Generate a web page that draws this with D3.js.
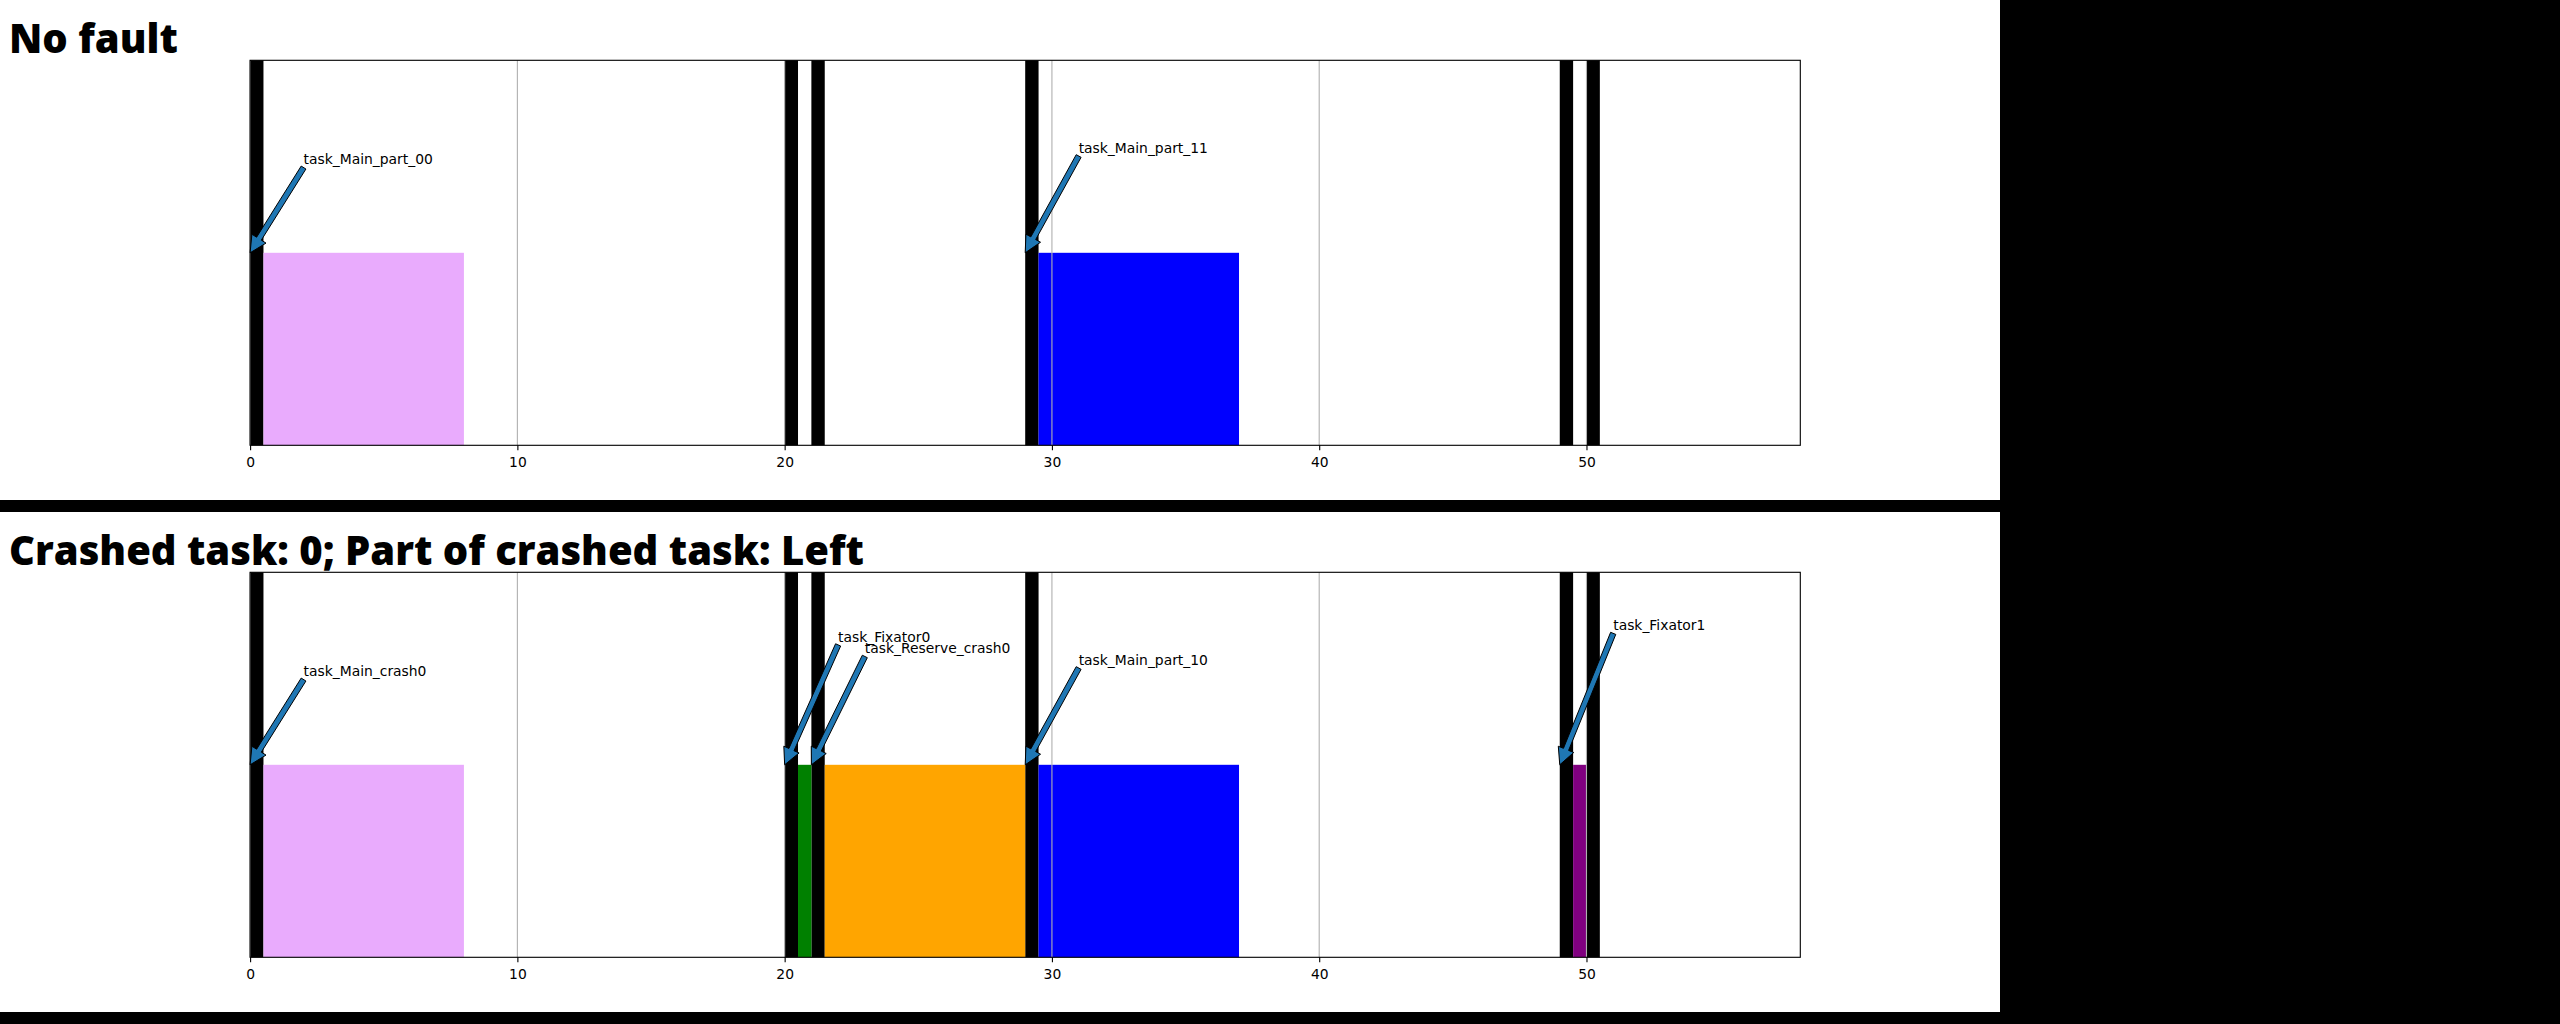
<!DOCTYPE html>
<html>
<head>
<meta charset="utf-8">
<script src="https://cdn.jsdelivr.net/npm/d3@7"></script>
<style>
  html, body { margin: 0; padding: 0; background: #000; }
  svg { display: block; }
</style>
</head>
<body>
<div id="chart"></div>
<script>
// ---------------- data ----------------
const xTicks = [0, 10, 20, 30, 40, 50];
const xMax = 58;
const panelTitles = ["No fault", "Crashed task: 0; Part of crashed task: Left"];
const switchTimes = [0, 20, 21, 29, 49, 50];   // black context-switch markers
const switchWidth = 0.5;

// panel 1: No fault
const p1Names  = ["task_Main_part_00", "task_Main_part_11"];
const p1Starts = [0, 29];
const p1Ends   = [8, 37];
const p1Colors = ["#e9abfd", "#0000ff"];
const p1LabelY = [0.73, 0.76];

// panel 2: crashed
const p2Names  = ["task_Main_crash0", "task_Fixator0", "task_Reserve_crash0", "task_Main_part_10", "task_Fixator1"];
const p2Starts = [0, 20, 21, 29, 49];
const p2Ends   = [8, 21, 29, 37, 50];
const p2Colors = ["#e9abfd", "#008000", "#ffa500", "#0000ff", "#800080"];
const p2LabelY = [0.73, 0.82, 0.79, 0.76, 0.85];

const barHeight = 0.5;
const labelDx = 2;

// ---------------- layout ----------------
const W = 2560, H = 1024;
const panelW = 2000, panelH = 500, gap = 12;
const axL = 250.1, axR = 1800.3, axT = 60.3, axB = 445.3;

const svg = d3.select("#chart").append("svg")
  .attr("width", W).attr("height", H)
  .style("background", "#000");

const panels = [
  {title: panelTitles[0], names: p1Names, starts: p1Starts, ends: p1Ends, colors: p1Colors, ly: p1LabelY},
  {title: panelTitles[1], names: p2Names, starts: p2Starts, ends: p2Ends, colors: p2Colors, ly: p2LabelY}
];

const x = d3.scaleLinear().domain([0, xMax]).range([axL, axR]);
const y = d3.scaleLinear().domain([0, 1]).range([axB, axT]);

const pt = 100 / 72;

panels.forEach((p, i) => {
  const g = svg.append("g").attr("transform", `translate(0,${i * (panelH + gap)})`);
  g.append("rect").attr("x", 0).attr("y", 0).attr("width", panelW).attr("height", panelH).attr("fill", "#fff");

  g.append("text")
    .attr("x", 9).attr("y", 53)
    .attr("font-family", "'Open Sans', sans-serif")
    .attr("font-weight", 800)
    .attr("font-size", 40)
    .attr("fill", "#000")
    .text(p.title);

  const ax = g.append("g");
  ax.append("rect").attr("x", axL).attr("y", axT).attr("width", axR - axL).attr("height", axB - axT).attr("fill", "#fff");

  // black switch markers
  ax.selectAll("rect.sw").data(switchTimes).enter().append("rect")
    .attr("class", "sw")
    .attr("x", d => x(d)).attr("width", d => x(d + switchWidth) - x(d))
    .attr("y", y(1)).attr("height", y(0) - y(1))
    .attr("fill", "#000");

  // task bars
  const tasks = p.names.map((n, k) => ({name: n, start: p.starts[k], end: p.ends[k], color: p.colors[k], ly: p.ly[k]}));
  ax.selectAll("rect.task").data(tasks).enter().append("rect")
    .attr("class", "task")
    .attr("x", d => x(d.start + switchWidth)).attr("width", d => x(d.end) - x(d.start + switchWidth))
    .attr("y", y(barHeight)).attr("height", y(0) - y(barHeight))
    .attr("fill", d => d.color);

  // grid (drawn above bars)
  ax.selectAll("line.grid").data(xTicks).enter().append("line")
    .attr("class", "grid")
    .attr("x1", d => x(d)).attr("x2", d => x(d))
    .attr("y1", y(0)).attr("y2", y(1))
    .attr("stroke", "#b0b0b0").attr("stroke-width", 0.8 * pt);

  // x axis
  const xAxis = d3.axisBottom(x).tickValues(xTicks).tickFormat(d3.format("d"))
    .tickSize(3.5 * pt).tickPadding(6.6).tickSizeOuter(0);
  const axg = ax.append("g").attr("transform", `translate(0,${axB})`).call(xAxis);
  axg.select(".domain").remove();
  axg.selectAll(".tick line").attr("stroke", "#000").attr("stroke-width", 0.8 * pt);
  axg.selectAll(".tick text").attr("font-family", "'DejaVu Sans', sans-serif").attr("font-size", 10 * pt).attr("fill", "#000");

  // spines
  ax.append("rect").attr("x", axL).attr("y", axT).attr("width", axR - axL).attr("height", axB - axT)
    .attr("fill", "none").attr("stroke", "#000").attr("stroke-width", 0.8 * pt);

  // annotations
  const hw = 12 * pt / 2, tw = 4 * pt / 2, hl = 12 * pt;
  tasks.forEach(d => {
    const tx = x(d.start + labelDx), ty = y(d.ly);
    const Tx = tx, Ty = ty + 3.3;
    const Px = x(d.start), Py = y(barHeight);
    const dx = Px - Tx, dy = Py - Ty, L = Math.hypot(dx, dy);
    const ux = dx / L, uy = dy / L, nx = -uy, ny = ux;
    const Bx = Px - ux * hl, By = Py - uy * hl;
    const pts = [
      [Tx + nx * tw, Ty + ny * tw],
      [Bx + nx * tw, By + ny * tw],
      [Bx + nx * hw, By + ny * hw],
      [Px, Py],
      [Bx - nx * hw, By - ny * hw],
      [Bx - nx * tw, By - ny * tw],
      [Tx - nx * tw, Ty - ny * tw]
    ];
    ax.append("path")
      .attr("d", "M" + pts.map(q => q.join(",")).join("L") + "Z")
      .attr("fill", "#1f77b4").attr("stroke", "#000").attr("stroke-width", 1)
      .attr("stroke-linejoin", "miter");
    ax.append("text")
      .attr("x", tx).attr("y", ty)
      .attr("font-family", "'DejaVu Sans', sans-serif")
      .attr("font-size", 10 * pt)
      .attr("fill", "#000")
      .text(d.name);
  });
});
</script>
</body>
</html>
